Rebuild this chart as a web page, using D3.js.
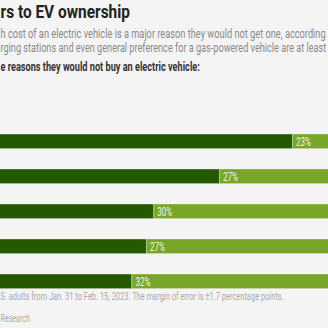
<!DOCTYPE html>
<html><head><meta charset="utf-8">
<script src="https://cdn.jsdelivr.net/npm/d3@7"></script>
<style>html,body{margin:0;padding:0;background:#f4f4f4;overflow:hidden}</style>
</head><body>
<svg id="c" width="328" height="328"></svg>
<script>
// Data (chart is cropped: left portion and right portion are outside the view)
const categories = ["Reason 1", "Reason 2", "Reason 3", "Reason 4", "Reason 5"];
const majorReason = [50, 40, 31, 30, 28];   // dark green (estimated, left part cropped)
const minorReason = [23, 27, 30, 27, 32];   // light green, labelled
const titleText = "rs to EV ownership";
const subtitleLines = [
  "h cost of an electric vehicle is a major reason they would not get one, according",
  "rging stations and even general preference for a gas-powered vehicle are at least"
];
const questionText = "e reasons they would not buy an electric vehicle:";
const noteLines = [
  "S. adults from Jan. 31 to Feb. 15, 2023. The margin of error is ±1.7 percentage points.",
  "Research"
];

const svg = d3.select("#c");
svg.append("rect").attr("width",328).attr("height",328).attr("fill","#f4f4f4");

function fitText(txt, x, y, w, size, weight, color){
  const t = svg.append("text").attr("x",0).attr("y",0)
    .attr("font-family","Roboto, 'Liberation Sans Narrow', sans-serif")
    .attr("font-size",size).attr("font-weight",weight).attr("fill",color)
    .text(txt);
  const nat = t.node().getComputedTextLength();
  t.attr("transform", `translate(${x},${y}) scale(${w/nat},1)`);
  return t;
}

fitText(titleText, 0.5, 17.5, 129.5, 19, 700, "#222");
fitText(subtitleLines[0], 0.5, 37.5, 325.5, 12, 400, "#8a8a8a");
fitText(subtitleLines[1], 0.5, 51.5, 326, 12, 400, "#8a8a8a");
fitText(questionText, 0.5, 71, 199.5, 12, 700, "#333");
fitText(noteLines[0], 0.5, 300, 283.5, 10.5, 400, "#ababab");
fitText(noteLines[1], 0.5, 321.5, 29.5, 10.5, 400, "#ababab");

const x = d3.scaleLinear().domain([0,100]).range([-73, 657]);
const y = d3.scaleBand().domain(categories).range([134, 288.5]).paddingInner(0.586).paddingOuter(0);

const g = svg.append("g");
const rows = g.selectAll("g.row").data(categories).join("g").attr("class","row");

rows.append("rect")
  .attr("x", (d,i)=>x(majorReason[i]))
  .attr("y", d=>y(d))
  .attr("width", (d,i)=>x(majorReason[i]+minorReason[i]) - x(majorReason[i]))
  .attr("height", y.bandwidth())
  .attr("fill", "#77a628");
rows.append("rect")
  .attr("x", x(0))
  .attr("y", d=>y(d))
  .attr("width", (d,i)=>x(majorReason[i]) - x(0))
  .attr("height", y.bandwidth())
  .attr("fill", "#245900");
rows.append("line")
  .attr("x1", (d,i)=>x(majorReason[i])+0.5).attr("x2", (d,i)=>x(majorReason[i])+0.5)
  .attr("y1", d=>y(d)).attr("y2", d=>y(d)+y.bandwidth())
  .attr("stroke","#a9c87a").attr("stroke-width",1);
rows.append("rect")
  .attr("x", x(0))
  .attr("y", d=>y(d)+0.25)
  .attr("width", (d,i)=>x(majorReason[i]+minorReason[i]) - x(0))
  .attr("height", y.bandwidth()-0.5)
  .attr("fill","none").attr("stroke","rgba(255,255,255,0.35)").attr("stroke-width",0.5);
rows.each(function(d,i){
  const t = d3.select(this).append("text")
    .attr("font-family","Roboto, sans-serif").attr("font-size",12).attr("font-weight",400)
    .attr("fill","#eef4e0")
    .text(minorReason[i]+"%");
  const nat = t.node().getComputedTextLength();
  t.attr("transform", `translate(${x(majorReason[i])+4},${y(d)+y.bandwidth()/2+4.5}) scale(${15/nat},1)`);
});
</script>
</body></html>
